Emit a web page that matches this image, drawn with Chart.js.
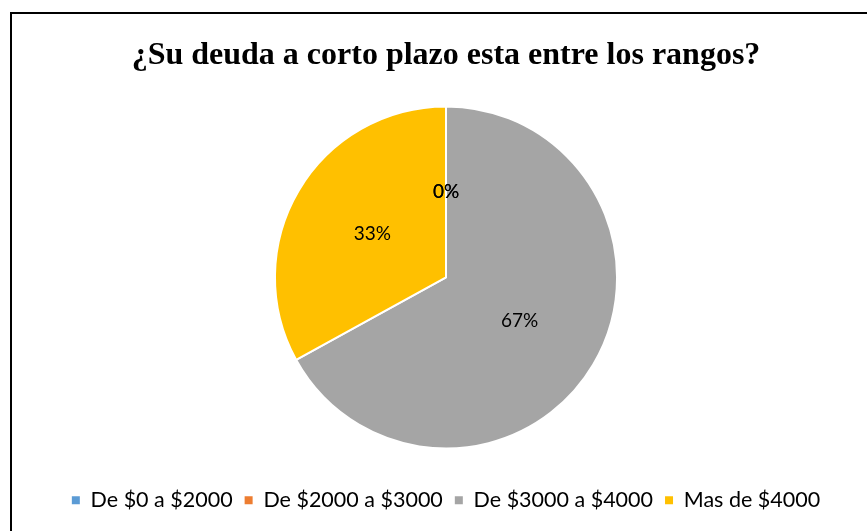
<!DOCTYPE html>
<html>
<head>
<meta charset="utf-8">
<script src="https://cdn.jsdelivr.net/npm/chart.js@4.4.0/dist/chart.umd.min.js"></script>
<style>
    html, body { margin: 0; padding: 0; background: #fff; }
    #frame {
        position: absolute; left: 10px; top: 12px;
        width: 880px; height: 540px;
        border: 2px solid #000;
        box-sizing: border-box;
    }
    #chart { position: absolute; left: 0; top: 0; }
</style>
</head>
<body>
<div id="frame"></div>
<canvas id="chart" width="867" height="531"></canvas>
<script>
const categories = ['De $0 a $2000', 'De $2000 a $3000', 'De $3000 a $4000', 'Mas de $4000'];
const percentValues = [0, 0, 67, 33];
const sliceColors = ['#5B9BD5', '#ED7D31', '#A5A5A5', '#FFC000'];
const chartTitle = '¿Su deuda a corto plazo esta entre los rangos?';

// draw the percent labels inside each slice
const sliceLabels = {
    id: 'sliceLabels',
    afterDatasetsDraw(chart) {
        const ctx = chart.ctx;
        const meta = chart.getDatasetMeta(0);
        const data = chart.data.datasets[0].data;
        const total = data.reduce((a, b) => a + b, 0);
        ctx.save();
        ctx.font = '19px Lato';
        ctx.fillStyle = '#000';
        ctx.textAlign = 'center';
        ctx.textBaseline = 'middle';
        meta.data.forEach(function (arc, i) {
            const p = arc.getCenterPoint();
            ctx.fillText(Math.round(data[i] / total * 100) + '%', p.x, p.y);
        });
        ctx.restore();
    }
};

document.addEventListener('DOMContentLoaded', function () {
    const ctx = document.getElementById('chart').getContext('2d');

    new Chart(ctx, {
        type: 'pie',
        data: {
            labels: categories,
            datasets: [{
                data: percentValues,
                backgroundColor: sliceColors,
                borderColor: '#fff',
                borderWidth: 2
            }]
        },
        options: {
            responsive: false,
            animation: false,
            layout: {
                padding: { top: 18, left: 25, right: 0, bottom: 10 }
            },
            plugins: {
                title: {
                    display: true,
                    text: chartTitle,
                    color: '#000',
                    font: { family: '"Liberation Serif", "Times New Roman", serif', size: 32, weight: 'bold' },
                    padding: { top: 19, bottom: 30 }
                },
                legend: {
                    position: 'bottom',
                    title: {
                        display: true,
                        text: ' ',
                        font: { size: 10 },
                        padding: { top: 0, bottom: 16 }
                    },
                    labels: {
                        color: '#000',
                        font: { family: 'Lato', size: 21.5 },
                        boxWidth: 8,
                        boxHeight: 8,
                        padding: 12,
                        generateLabels(chart) {
                            const items = Chart.overrides.pie.plugins.legend.labels.generateLabels(chart);
                            items.forEach(function (it) { it.lineWidth = 0; it.hidden = false; });
                            return items;
                        }
                    },
                    onClick: null
                },
                tooltip: { enabled: false }
            }
        },
        plugins: [sliceLabels]
    });
});
</script>
</body>
</html>
